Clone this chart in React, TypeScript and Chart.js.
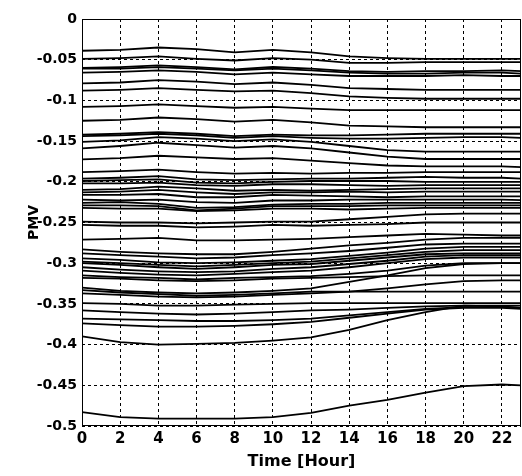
import React, { useEffect, useRef } from "react";
import { Chart, registerables } from "chart.js";

Chart.register(...registerables);

// Hours at which the PMV curves were read
const hours = [0, 2, 4, 6, 8, 10, 12, 14, 16, 18, 20, 22, 23];

// Upper group (-0.04 .. -0.19): bump at 4 h, dip at 8 h, slow decline after 12 h
const upperSeries = [
  [-0.039, -0.038, -0.035, -0.037, -0.041, -0.038, -0.041, -0.046, -0.048, -0.049, -0.049, -0.049, -0.049],
  [-0.049, -0.048, -0.046, -0.049, -0.051, -0.048, -0.050, -0.054, -0.054, -0.053, -0.053, -0.053, -0.053],
  [-0.060, -0.059, -0.057, -0.059, -0.062, -0.059, -0.061, -0.064, -0.065, -0.064, -0.064, -0.063, -0.064],
  [-0.061, -0.061, -0.059, -0.061, -0.063, -0.061, -0.063, -0.066, -0.067, -0.067, -0.066, -0.066, -0.067],
  [-0.066, -0.065, -0.063, -0.065, -0.068, -0.066, -0.068, -0.070, -0.070, -0.070, -0.069, -0.070, -0.070],
  [-0.079, -0.078, -0.075, -0.077, -0.080, -0.078, -0.081, -0.085, -0.086, -0.087, -0.087, -0.087, -0.087],
  [-0.088, -0.087, -0.085, -0.087, -0.089, -0.088, -0.091, -0.095, -0.097, -0.098, -0.098, -0.098, -0.098],
  [-0.108, -0.107, -0.105, -0.107, -0.109, -0.108, -0.110, -0.112, -0.112, -0.112, -0.112, -0.112, -0.112],
  [-0.125, -0.124, -0.121, -0.123, -0.126, -0.124, -0.127, -0.131, -0.132, -0.133, -0.133, -0.133, -0.133],
  [-0.142, -0.141, -0.139, -0.141, -0.144, -0.142, -0.143, -0.143, -0.142, -0.141, -0.141, -0.141, -0.141],
  [-0.144, -0.143, -0.141, -0.143, -0.146, -0.144, -0.146, -0.147, -0.147, -0.146, -0.145, -0.145, -0.146],
  [-0.151, -0.149, -0.145, -0.147, -0.150, -0.148, -0.151, -0.156, -0.161, -0.163, -0.163, -0.163, -0.163],
  [-0.159, -0.156, -0.152, -0.155, -0.158, -0.156, -0.159, -0.164, -0.169, -0.172, -0.172, -0.172, -0.172],
  [-0.1725, -0.171, -0.168, -0.170, -0.172, -0.171, -0.174, -0.177, -0.180, -0.181, -0.181, -0.181, -0.182],
];

// Middle group (-0.19 .. -0.25)
const middleSeries = [
  [-0.188, -0.187, -0.185, -0.188, -0.190, -0.189, -0.190, -0.189, -0.189, -0.188, -0.188, -0.188, -0.188],
  [-0.196, -0.195, -0.193, -0.197, -0.198, -0.197, -0.196, -0.196, -0.195, -0.194, -0.195, -0.195, -0.196],
  [-0.199, -0.198, -0.197, -0.201, -0.202, -0.200, -0.199, -0.199, -0.199, -0.200, -0.200, -0.200, -0.200],
  [-0.202, -0.202, -0.201, -0.204, -0.205, -0.203, -0.203, -0.204, -0.205, -0.204, -0.204, -0.204, -0.204],
  [-0.210, -0.209, -0.206, -0.208, -0.211, -0.210, -0.211, -0.210, -0.209, -0.208, -0.208, -0.208, -0.208],
  [-0.213, -0.212, -0.210, -0.213, -0.215, -0.213, -0.213, -0.212, -0.213, -0.212, -0.212, -0.212, -0.212],
  [-0.216, -0.216, -0.215, -0.219, -0.219, -0.216, -0.217, -0.218, -0.219, -0.218, -0.218, -0.218, -0.218],
  [-0.222, -0.223, -0.222, -0.225, -0.226, -0.223, -0.223, -0.222, -0.222, -0.222, -0.222, -0.222, -0.2225],
  [-0.226, -0.225, -0.227, -0.232, -0.231, -0.228, -0.227, -0.227, -0.226, -0.226, -0.226, -0.226, -0.226],
  [-0.229, -0.229, -0.230, -0.235, -0.233, -0.230, -0.230, -0.230, -0.229, -0.229, -0.229, -0.229, -0.229],
  [-0.232, -0.233, -0.233, -0.236, -0.235, -0.233, -0.233, -0.234, -0.233, -0.232, -0.232, -0.232, -0.232],
  [-0.249, -0.250, -0.250, -0.251, -0.250, -0.249, -0.249, -0.246, -0.243, -0.240, -0.239, -0.239, -0.239],
  [-0.253, -0.254, -0.254, -0.256, -0.255, -0.253, -0.254, -0.253, -0.252, -0.250, -0.250, -0.250, -0.250],
];

// Lower group (-0.27 .. -0.49): minimum near 5 h, rising from 12 h to 19 h
const lowerSeries = [
  [-0.271, -0.270, -0.269, -0.272, -0.272, -0.271, -0.270, -0.268, -0.266, -0.264, -0.265, -0.266, -0.266],
  [-0.283, -0.286, -0.288, -0.289, -0.289, -0.286, -0.282, -0.278, -0.275, -0.271, -0.269, -0.269, -0.269],
  [-0.288, -0.290, -0.292, -0.294, -0.293, -0.290, -0.288, -0.285, -0.281, -0.277, -0.276, -0.276, -0.276],
  [-0.294, -0.296, -0.299, -0.300, -0.299, -0.297, -0.295, -0.291, -0.287, -0.282, -0.280, -0.280, -0.280],
  [-0.298, -0.300, -0.302, -0.304, -0.302, -0.300, -0.298, -0.294, -0.290, -0.286, -0.284, -0.284, -0.284],
  [-0.300, -0.302, -0.305, -0.307, -0.305, -0.302, -0.301, -0.297, -0.293, -0.289, -0.288, -0.288, -0.288],
  [-0.305, -0.308, -0.310, -0.311, -0.310, -0.307, -0.305, -0.301, -0.297, -0.292, -0.290, -0.290, -0.290],
  [-0.309, -0.312, -0.314, -0.315, -0.313, -0.311, -0.309, -0.305, -0.300, -0.295, -0.293, -0.293, -0.293],
  [-0.315, -0.317, -0.318, -0.320, -0.318, -0.317, -0.316, -0.313, -0.309, -0.303, -0.300, -0.300, -0.300],
  [-0.318, -0.319, -0.321, -0.322, -0.321, -0.319, -0.318, -0.317, -0.316, -0.315, -0.315, -0.315, -0.315],
  [-0.330, -0.334, -0.336, -0.337, -0.336, -0.334, -0.331, -0.323, -0.315, -0.306, -0.301, -0.300, -0.300],
  [-0.333, -0.336, -0.338, -0.340, -0.339, -0.337, -0.335, -0.335, -0.335, -0.335, -0.335, -0.335, -0.335],
  [-0.337, -0.339, -0.341, -0.342, -0.341, -0.339, -0.337, -0.335, -0.331, -0.326, -0.322, -0.321, -0.321],
  [-0.349, -0.350, -0.352, -0.352, -0.351, -0.350, -0.349, -0.349, -0.349, -0.349, -0.349, -0.349, -0.349],
  [-0.358, -0.360, -0.362, -0.363, -0.362, -0.360, -0.358, -0.357, -0.355, -0.353, -0.352, -0.352, -0.352],
  [-0.368, -0.369, -0.370, -0.371, -0.371, -0.370, -0.368, -0.364, -0.360, -0.356, -0.354, -0.354, -0.355],
  [-0.374, -0.376, -0.378, -0.378, -0.377, -0.375, -0.372, -0.367, -0.362, -0.357, -0.355, -0.355, -0.356],
  [-0.390, -0.397, -0.400, -0.399, -0.398, -0.395, -0.391, -0.382, -0.370, -0.360, -0.352, -0.353, -0.355],
  [-0.483, -0.489, -0.491, -0.491, -0.491, -0.489, -0.484, -0.475, -0.468, -0.459, -0.451, -0.449, -0.450],
];

const xTickStep = 2;
const yTickStep = 0.05;
const xTitle = "Time [Hour]";
const yTitle = "PMV";

const FONT = "'DejaVu Sans', 'Liberation Sans', Arial, sans-serif";

const framePlugin = {
  id: "frame",
  beforeDraw(chart: any) {
    const ctx = chart.ctx;
    ctx.save();
    ctx.fillStyle = "#ffffff";
    ctx.fillRect(0, 0, chart.width, chart.height);
    ctx.restore();
  },
  afterDraw(chart: any) {
    const { ctx, chartArea } = chart;
    const { left, top, right, bottom } = chartArea;
    ctx.save();
    ctx.strokeStyle = "#000000";
    ctx.lineWidth = 1;
    ctx.setLineDash([]);
    ctx.strokeRect(left + 0.5, top + 0.5, right - left - 1, bottom - top - 1);
    ctx.restore();
  },
};

export default function App() {
  const canvasRef = useRef<HTMLCanvasElement | null>(null);

  useEffect(() => {
    if (!canvasRef.current) return;
    const all = [...upperSeries, ...middleSeries, ...lowerSeries];
    const datasets = all.map((vals, i) => ({
      label: "s" + i,
      data: hours.map((h, j) => ({ x: h, y: vals[j] })),
      borderColor: "#000000",
      backgroundColor: "#000000",
      borderWidth: 1.8,
      pointRadius: 0,
      tension: 0,
      fill: false,
    }));

    const chart = new Chart(canvasRef.current, {
      type: "line",
      data: { datasets },
      plugins: [framePlugin],
      options: {
        animation: false,
        responsive: false,
        maintainAspectRatio: false,
        events: [],
        layout: { padding: { left: 0, top: 19, right: 1, bottom: 0 } },
        plugins: {
          legend: { display: false },
          tooltip: { enabled: false },
          title: { display: false },
        },
        scales: {
          x: {
            type: "linear",
            min: 0,
            max: 23,
            afterFit: (scale: any) => {
              scale.height = 50;
            },
            ticks: {
              stepSize: xTickStep,
              includeBounds: false,
              color: "#000000",
              padding: 4,
              maxRotation: 0,
              font: { family: FONT, size: 15, weight: "bold" },
              callback: (v: any) => String(v),
            },
            grid: {
              color: "#000000",
              lineWidth: 1,
              drawTicks: false,
            },
            border: { display: false, dash: [3, 3] },
            title: {
              display: true,
              text: xTitle,
              color: "#000000",
              font: { family: FONT, size: 16, weight: "bold" },
              padding: { top: 0, bottom: 5 },
            },
          },
          y: {
            type: "linear",
            min: -0.5,
            max: 0,
            afterFit: (scale: any) => {
              scale.width = 82;
            },
            ticks: {
              stepSize: yTickStep,
              color: "#000000",
              padding: 5,
              font: { family: FONT, size: 14, weight: "bold" },
              callback: (v: any) => String(Number(Number(v).toFixed(2))),
            },
            grid: {
              color: "#000000",
              lineWidth: 1,
              drawTicks: false,
            },
            border: { display: false, dash: [3, 3] },
            title: {
              display: true,
              text: yTitle,
              color: "#000000",
              font: { family: FONT, size: 14, weight: "bold" },
              padding: { top: 26, bottom: 0 },
            },
          },
        },
      },
    });
    return () => chart.destroy();
  }, []);

  return (
    <div style={{ position: "fixed", left: 0, top: 0, width: 522, height: 476, background: "#fff" }}>
      <canvas ref={canvasRef} width={522} height={476} style={{ display: "block" }} />
    </div>
  );
}
